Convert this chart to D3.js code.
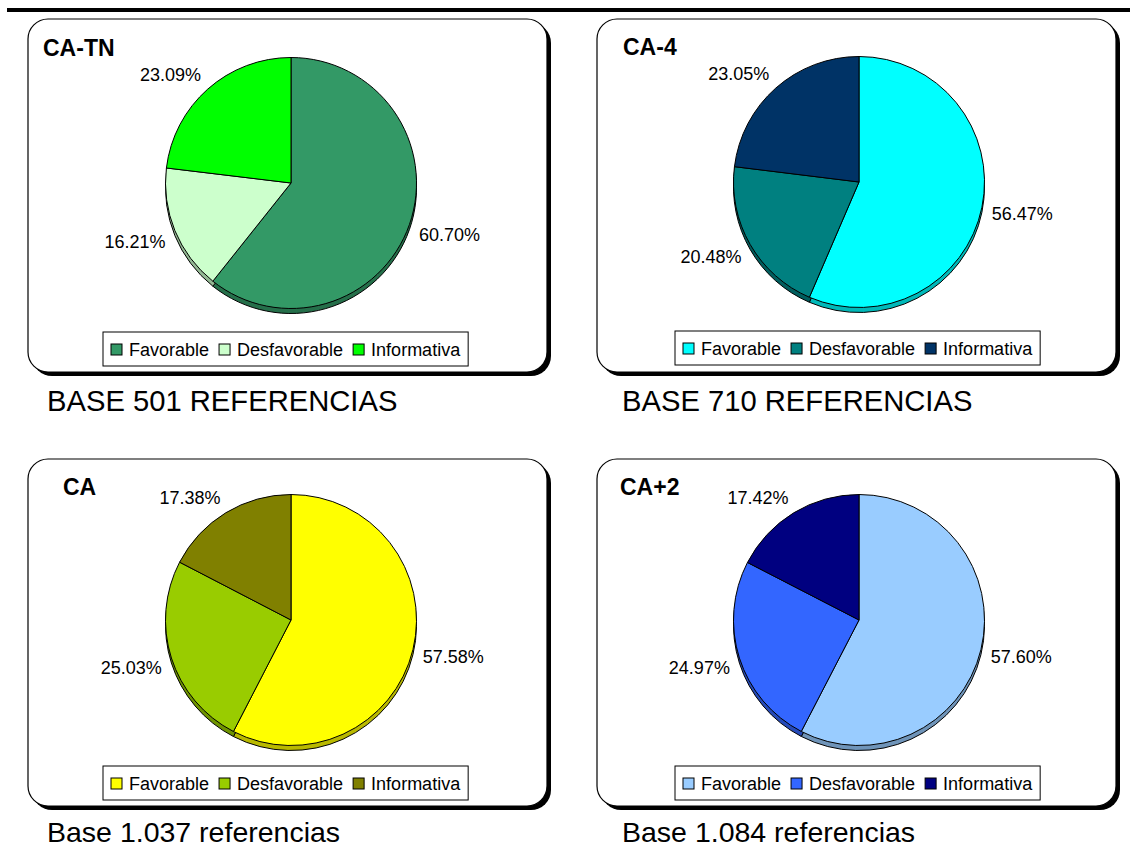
<!DOCTYPE html>
<html>
<head>
<meta charset="utf-8">
<script src="https://cdn.jsdelivr.net/npm/d3@7"></script>
<style>
  html, body { margin: 0; padding: 0; background: #fff; }
  svg { display: block; font-family: "Liberation Sans", Arial, sans-serif; }
</style>
</head>
<body>
<svg id="chart" width="1130" height="847"></svg>
<script>
// ---- data ----
const categories = ["Favorable", "Desfavorable", "Informativa"];
const chartTitles = ["CA-TN", "CA-4", "CA", "CA+2"];
const valuesCATN = [60.70, 16.21, 23.09];
const valuesCA4  = [56.47, 20.48, 23.05];
const valuesCA   = [57.58, 25.03, 17.38];
const valuesCA2  = [57.60, 24.97, 17.42];
const baseLabels = ["BASE 501 REFERENCIAS", "BASE 710 REFERENCIAS", "Base 1.037 referencias", "Base 1.084 referencias"];

// ---- styles ----
const colorsCATN = ["#339966", "#CCFFCC", "#00FF00"];
const colorsCA4  = ["#00FFFF", "#008080", "#003366"];
const colorsCA   = ["#FFFF00", "#99CC00", "#808000"];
const colorsCA2  = ["#99CCFF", "#3366FF", "#000080"];

const allValues = [valuesCATN, valuesCA4, valuesCA, valuesCA2];
const allColors = [colorsCATN, colorsCA4, colorsCA, colorsCA2];

// layout (positions only)
const frames = [
  {x: 28,  y: 19,  w: 519, h: 353},
  {x: 597, y: 19,  w: 519, h: 353},
  {x: 28,  y: 459, w: 519, h: 347},
  {x: 597, y: 459, w: 519, h: 347}
];
const pieCenters = [[291, 183], [859, 182], [291, 620], [859, 620]];
const titlePos = [[43, 56], [623, 55], [63, 495], [620, 495]];
const legendPos = [[103, 332], [675, 331], [103, 766], [675, 766]];
const basePos = [[47, 411], [622, 411], [47, 842], [622, 842]];
const baseSizes = [29.2, 29.2, 28.5, 28.5];

const R = 125.5, DEPTH = 5, LABEL_GAP = 10;

const svg = d3.select("#chart");

// top rule
svg.append("rect").attr("x", 7).attr("y", 8).attr("width", 1123).attr("height", 4).attr("fill", "#000");

const pie = d3.pie().sort(null).value(d => d);
const arc = d3.arc().innerRadius(0).outerRadius(R);
const fmt = d3.format(".2f");

frames.forEach((f, i) => {
  const g = svg.append("g");
  // frame with shadow
  g.append("rect").attr("x", f.x + 4).attr("y", f.y + 4).attr("width", f.w).attr("height", f.h)
    .attr("rx", 20).attr("ry", 20).attr("fill", "#000");
  g.append("rect").attr("x", f.x).attr("y", f.y).attr("width", f.w).attr("height", f.h)
    .attr("rx", 20).attr("ry", 20).attr("fill", "#fff").attr("stroke", "#000").attr("stroke-width", 1.2);

  // title
  g.append("text").attr("x", titlePos[i][0]).attr("y", titlePos[i][1])
    .attr("font-size", 23).attr("font-weight", "bold").attr("fill", "#000").text(chartTitles[i]);

  const vals = allValues[i];
  const cols = allColors[i];
  const arcs = pie(vals);
  const [cx, cy] = pieCenters[i];
  const pg = g.append("g").attr("transform", `translate(${cx},${cy})`);

  // depth (3D edge)
  pg.append("g").attr("transform", `translate(0,${DEPTH})`)
    .selectAll("path").data(arcs).join("path")
    .attr("d", arc)
    .attr("fill", (d, j) => d3.color(cols[j]).darker(0.9))
    .attr("stroke", "#000").attr("stroke-width", 1);
  // top face
  pg.append("g").selectAll("path").data(arcs).join("path")
    .attr("d", arc)
    .attr("fill", (d, j) => cols[j])
    .attr("stroke", "#000").attr("stroke-width", 1);

  // labels
  arcs.forEach((d, j) => {
    const a = (d.startAngle + d.endAngle) / 2;
    const dx = Math.sin(a), dy = -Math.cos(a);
    const px = dx * (R + LABEL_GAP), py = dy * (R + LABEL_GAP);
    const t = pg.append("text").attr("font-size", 18).attr("fill", "#000")
      .attr("text-anchor", "middle").attr("dy", "0.35em")
      .text(fmt(d.data) + "%");
    const w = t.node().getComputedTextLength();
    const h = 14;
    const kx = Math.max(-1, Math.min(1, dx * 3));
    const ky = Math.max(-1, Math.min(1, dy * 3));
    t.attr("x", px + kx * w / 2).attr("y", py + ky * h / 2);
  });

  // legend
  const [lx, ly] = legendPos[i];
  const lg = g.append("g");
  const box = lg.append("rect").attr("x", lx).attr("y", ly).attr("height", 34)
    .attr("fill", "#fff").attr("stroke", "#000").attr("stroke-width", 1);
  let cur = lx + 8;
  categories.forEach((c, j) => {
    lg.append("rect").attr("x", cur).attr("y", ly + 12).attr("width", 11).attr("height", 11)
      .attr("fill", cols[j]).attr("stroke", "#000").attr("stroke-width", 1);
    const tt = lg.append("text").attr("x", cur + 18).attr("y", ly + 23.5)
      .attr("font-size", 18).attr("fill", "#000").text(c);
    cur += 18 + tt.node().getComputedTextLength() + 10;
  });
  box.attr("width", cur - lx - 2);

  // base caption
  svg.append("text").attr("x", basePos[i][0]).attr("y", basePos[i][1])
    .attr("font-size", baseSizes[i]).attr("fill", "#000").text(baseLabels[i]);
});
</script>
</body>
</html>
